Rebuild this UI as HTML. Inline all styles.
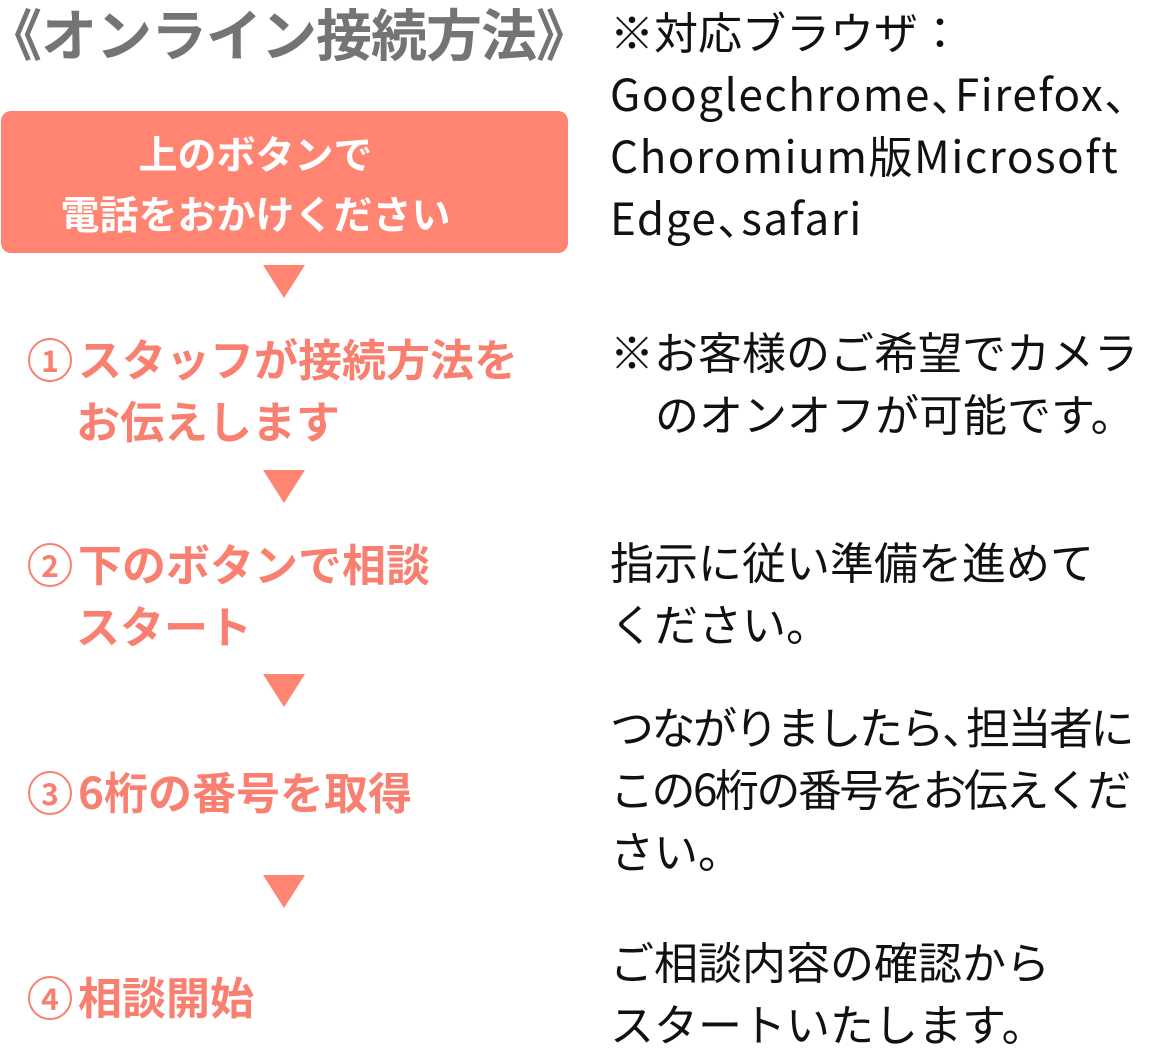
<!DOCTYPE html>
<html><head><meta charset="utf-8"><style>
body{margin:0;width:1150px;height:1064px;background:#fff;position:relative;overflow:hidden;font-family:"Noto Sans CJK JP","Liberation Sans",sans-serif;}
.a{position:absolute;white-space:nowrap;}
.t{font-weight:700;color:#747474;font-size:56px;line-height:70px;left:-14px;top:-2px;letter-spacing:-1px}
.box{position:absolute;left:1px;top:111px;width:567px;height:142px;background:#FF8472;border-radius:10px;color:#fff;font-weight:700;font-size:39px;line-height:60px;text-align:center;}
.box div{margin-right:58px}
.tri{position:absolute;left:263px;width:0;height:0;border-left:21px solid transparent;border-right:21px solid transparent;border-top:33px solid #FF8472;}
.s{color:#F98071;font-weight:700;font-size:44px;line-height:62px;left:28px;}
.n{display:inline-block;width:44px;height:44px;border:2.5px solid #F98071;border-radius:50%;box-sizing:border-box;font-size:30px;line-height:38px;text-align:center;vertical-align:middle;margin-right:6px;position:relative;top:-4px}
.r{color:#111;font-size:44px;line-height:62px;left:610px;}
.c{letter-spacing:-20px}
.l{letter-spacing:1.5px}
.k{letter-spacing:-2.5px}
</style></head><body>
<div class="a t">《オンライン接続方法》</div>
<div class="box"><div style="margin-top:12px">上のボタンで</div><div>電話をおかけください</div></div>
<div class="tri" style="top:265px"></div>
<div class="tri" style="top:470px"></div>
<div class="tri" style="top:674px"></div>
<div class="tri" style="top:875px"></div>
<div class="a s" style="top:326px"><span class="n">1</span>スタッフが接続方法を<br><span style="padding-left:48px">お伝えします</span></div>
<div class="a s" style="top:531px"><span class="n">2</span>下のボタンで相談<br><span style="padding-left:48px">スタート</span></div>
<div class="a s" style="top:759px"><span class="n">3</span>6桁の番号を取得</div>
<div class="a s" style="top:964px"><span class="n">4</span>相談開始</div>
<div class="a r" style="top:-1px">※対応ブラウザ：<br><span class="l">Googlechrome<span class="c">、</span>&#8203;Firefox<span class="c">、</span></span><br><span class="l">Choromium版Microsoft</span><br><span class="l">Edge<span class="c">、</span>&#8203;safari</span></div>
<div class="a r" style="top:319px">※お客様のご希望でカメラ<br><span style="padding-left:45px">のオンオフが可能です。</span></div>
<div class="a r" style="top:529px">指示に従い準備を進めて<br>ください。</div>
<div class="a r" style="top:694px"><span class="k">つながりましたら<span class="c">、</span>&#8203;担当者に</span><br><span class="k">この6桁の番号をお伝えくだ</span><br>さい。</div>
<div class="a r" style="top:929px">ご相談内容の確認から<br>スタートいたします。</div>
</body></html>
